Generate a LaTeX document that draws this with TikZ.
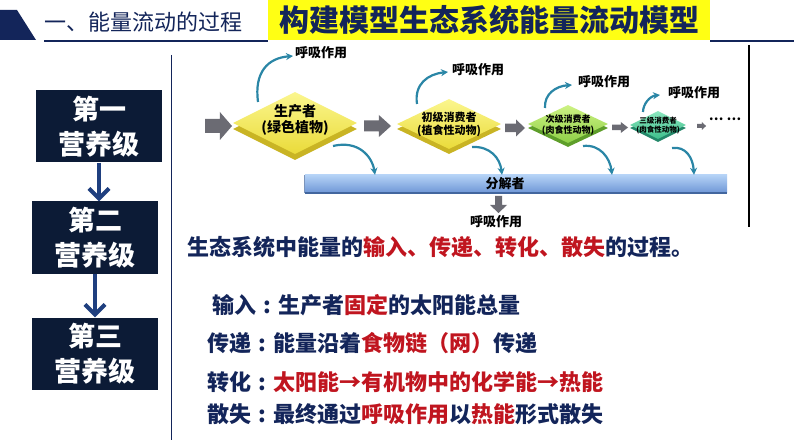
\documentclass[tikz,border=0pt]{standalone}
\usepackage{fontspec}
\setmainfont{Noto Sans CJK SC}
\usetikzlibrary{shapes.geometric,arrows.meta,calc}
\definecolor{navy}{HTML}{13255A}
\definecolor{boxnavy}{HTML}{0C1B36}
\definecolor{lvarrow}{HTML}{1F3F7F}
\definecolor{titleyellow}{HTML}{FFFF14}
\definecolor{redtxt}{HTML}{C0151F}
\definecolor{arrowgray}{HTML}{6B6B73}
\definecolor{curvecol}{HTML}{2A86A6}
\definecolor{yeltop}{HTML}{FBF68E}
\definecolor{yelbot}{HTML}{EADB3A}
\definecolor{yelside}{HTML}{C9B424}
\definecolor{grntop}{HTML}{CDF283}
\definecolor{grnbot}{HTML}{8FD048}
\definecolor{grnside}{HTML}{5E9E2A}
\definecolor{teltop}{HTML}{8BE6BE}
\definecolor{telbot}{HTML}{3FBF8C}
\definecolor{telside}{HTML}{24886A}
\definecolor{bartop}{HTML}{B4D2F6}
\definecolor{barbot}{HTML}{6E96D6}
\definecolor{baredge}{HTML}{42669E}
\newcommand\garrow[4]{\fill[arrowgray] (#1,#2-0.25*#4) -- ++(0.55*#3,0) -- ++(0,-0.25*#4) -- (#1+#3,#2) -- (#1+0.55*#3,#2+0.5*#4) -- ++(0,-0.25*#4) -- (#1,#2+0.25*#4) -- cycle;}
\tikzset{
  lvbox/.style={fill=boxnavy, text=white, font=\bfseries\fontsize{27}{35}\selectfont, align=center, inner sep=0, minimum width=126, minimum height=72},
  lvarr/.style={draw=lvarrow, line width=4, -{Straight Barb[length=10,width=20,line width=4]}},
  dface/.style={diamond, inner sep=0, draw=none},
  resp/.style={draw=curvecol, line width=2.2, -{Stealth[length=7,width=7]}},
  resptxt/.style={font=\bfseries\fontsize{13}{15}\selectfont, text=black, inner sep=0},
  bodytxt/.style={anchor=west, inner sep=0, text=navy, font=\bfseries\fontsize{22}{26}\selectfont}
}
\begin{document}
\begin{tikzpicture}[x=1pt,y=-1pt]
\useasboundingbox (0,0) rectangle (794,446);
\fill[white] (0,0) rectangle (794,446);

% header
\fill[navy] (0,10) -- (17,10) -- (36,40) -- (0,40) -- cycle;
\node[anchor=west, text=navy, font=\fontsize{22}{26}\selectfont, inner sep=0] (htitle) at (44,22) {一、能量流动的过程};
\draw[navy, line width=2] (44,41) -- (268,41);
\draw[navy, line width=2] (710,41) -- (794,41);
\node[fill=titleyellow, minimum width=442, minimum height=40, inner sep=0, text=navy, font=\bfseries\fontsize{30}{34}\selectfont] (mtitle) at (489,20) {构建模型生态系统能量流动模型};

% separators
\draw[navy, line width=1] (171,55) -- (171,440);
\draw[black, line width=1.8] (749,45) -- (749,227);

% trophic level boxes
\node[lvbox] (b1) at (99,126.5) {第一\\营养级};
\node[lvbox] (b2) at (95,237.5) {第二\\营养级};
\node[lvbox] (b3) at (95,353.5) {第三\\营养级};
\draw[lvarr] (b1.south) -- (b1.south |- b2.north);
\draw[lvarr] (b2.south) -- (b2.south |- b3.north);

% decomposer bar
\node[rectangle, minimum width=422, minimum height=18, inner sep=0, top color=bartop, bottom color=barbot] (bar) at (516,184) {};
\draw[baredge, line width=1.5] (bar.south west) -- (bar.south east);
\draw[baredge!70, line width=0.8] (bar.north west) -- (bar.south west);
\node[resptxt] (dec) at (505,184) {分解者};

% diamonds (side then face)
\node[dface, fill=yelside, minimum width=124, minimum height=62] (d1s) at (295,129) {};
\node[dface, top color=yeltop, bottom color=yelbot, minimum width=124, minimum height=62] (d1) at (295,123) {};
\node[align=center, inner sep=0, font=\bfseries\fontsize{14}{16}\selectfont] (t1) at (295,120) {生产者\\(绿色植物)};

\node[dface, fill=yelside, minimum width=104, minimum height=50] (d2s) at (449,129) {};
\node[dface, top color=yeltop, bottom color=yelbot, minimum width=104, minimum height=50] (d2) at (449,124) {};
\node[align=center, inner sep=0, font=\bfseries\fontsize{11}{13}\selectfont] (t2) at (449,124.5) {初级消费者\\(植食性动物)};

\node[dface, fill=grnside, minimum width=80, minimum height=38] (d3s) at (568,128) {};
\node[dface, top color=grntop, bottom color=grnbot, minimum width=80, minimum height=38] (d3) at (568,124) {};
\node[align=center, inner sep=0, font=\bfseries\fontsize{9}{10.5}\selectfont] (t3) at (568,125) {次级消费者\\(肉食性动物)};

\node[dface, fill=telside, minimum width=56, minimum height=28] (d4s) at (658,128) {};
\node[dface, top color=teltop, bottom color=telbot, minimum width=56, minimum height=28] (d4) at (658,125) {};
\node[align=center, inner sep=0, font=\bfseries\fontsize{7.5}{9}\selectfont] (t4) at (658,125.5) {三级消费者\\(肉食性动物)};

% gray block arrows
\garrow{205}{126}{27}{28}
\garrow{364}{126}{27}{22}
\garrow{505}{128}{20}{17}
\garrow{612}{127.5}{16}{11}
\garrow{697}{126}{9}{8}
\node[inner sep=0, font=\bfseries\fontsize{13}{15}\selectfont] (dots) at (725,119) {… …};

% respiration labels
\node[resptxt, anchor=west] (r1) at (295,53) {呼吸作用};
\node[resptxt, anchor=west] (r2) at (452,70) {呼吸作用};
\node[resptxt, anchor=west] (r3) at (578,82) {呼吸作用};
\node[resptxt, anchor=west] (r4) at (668,93) {呼吸作用};
\node[resptxt] (r5) at (496,222) {呼吸作用};

% respiration curves
\coordinate (s1) at (258,102);
\coordinate (s2) at (417,104);
\coordinate (s3) at (545,108);
\coordinate (s4) at (643,112);
\draw[resp] (s1) .. controls (254,72) and (268,58) .. ($(r1.west)+(-2,3)$);
\draw[resp] (s2) .. controls (414,84) and (428,74) .. ($(r2.west)+(-4,2)$);
\draw[resp] (s3) .. controls (544,94) and (556,86) .. ($(r3.west)+(-6,3)$);
\draw[resp] (s4) .. controls (643,104) and (650,96) .. ($(r4.west)+(-8,2)$);

% decomposition curves
\coordinate (e1) at (333,146);
\coordinate (e2) at (472,147);
\coordinate (e3) at (583,146);
\coordinate (e4) at (672,148);
\draw[resp] (e1) .. controls (358,140) and (372,156) .. (bar.north -| 375,0);
\draw[resp] (e2) .. controls (490,146) and (500,158) .. (bar.north -| 502,0);
\draw[resp] (e3) .. controls (600,144) and (610,158) .. (bar.north -| 612,0);
\draw[resp] (e4) .. controls (686,146) and (693,158) .. (bar.north -| 694,0);

% down arrow from decomposer
\fill[arrowgray] (495,196) -- (502,196) -- (502,205) -- (507,205) -- (498.5,213) -- (490,205) -- (495,205) -- cycle;

% text block
\node[bodytxt] (sum) at (187,247) {生态系统中能量的\textcolor{redtxt}{输入、传递、转化、散失}的过程。};
\node[bodytxt] (l1) at (212,305) {输入\makebox[22pt]{:}生产者\textcolor{redtxt}{固定}的太阳能总量};
\node[bodytxt] (l2) at (207,343) {传递\makebox[22pt]{:}能量沿着\textcolor{redtxt}{食物链（网）}传递};
\node[bodytxt] (l3) at (207,382) {转化\makebox[22pt]{:}\textcolor{redtxt}{太阳能→有机物中的化学能→热能}};
\node[bodytxt] (l4) at (207,414) {散失\makebox[22pt]{:}最终通过\textcolor{redtxt}{呼吸作用}以\textcolor{redtxt}{热能}形式散失};
\end{tikzpicture}
\end{document}
